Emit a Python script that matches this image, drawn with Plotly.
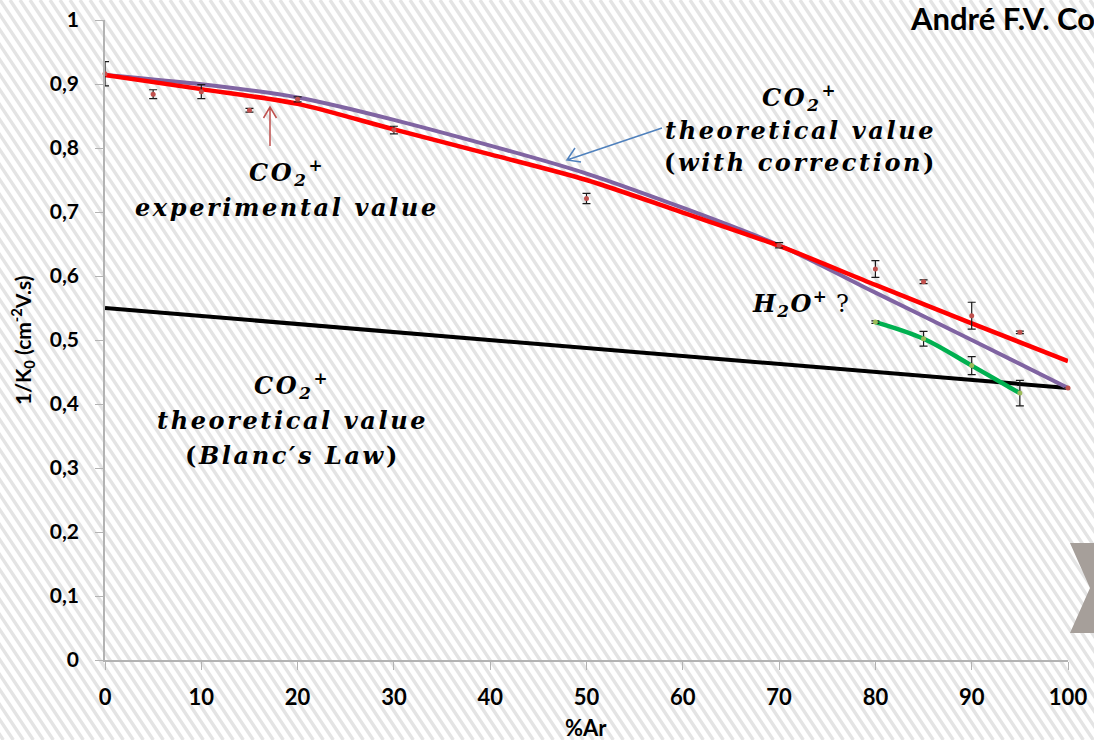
import base64
import plotly.graph_objects as go

# ---- data -------------------------------------------------------------
# measured 1/K0 of CO2+ versus argon fraction, with error bars
pct_ar = [0, 5, 10, 15, 20, 30, 50, 70, 80, 85, 90, 95, 100]
exp_co2 = [0.916, 0.884, 0.888, 0.859, 0.876, 0.828, 0.721, 0.648, 0.611, 0.591, 0.538, 0.512, 0.425]
exp_co2_err = [0.019, 0.007, 0.011, 0.003, 0.004, 0.006, 0.008, 0.004, 0.013, 0.003, 0.021, 0.002, 0.0]

# smoothed trend of the measured CO2+ values
trend_x = [0, 10, 20, 30, 40, 50, 60, 70, 80, 90, 100]
trend_co2 = [0.914, 0.892, 0.869, 0.829, 0.790, 0.750, 0.699, 0.647, 0.586, 0.526, 0.467]

# theoretical CO2+ values with correction
corr_x = [0, 10, 20, 30, 50, 70, 80, 90, 100]
corr_co2 = [0.914, 0.8995, 0.879, 0.844, 0.760, 0.648, 0.574, 0.500, 0.425]

# theoretical CO2+ values from Blanc's law
blanc_x = [0, 100]
blanc_co2 = [0.550, 0.425]

# second ion (H2O+ ?) at high argon fractions
h2o_x = [80, 85, 90, 95]
h2o = [0.528, 0.502, 0.460, 0.417]
h2o_err = [0.002, 0.0115, 0.014, 0.020]

y_ticks = [0, 0.1, 0.2, 0.3, 0.4, 0.5, 0.6, 0.7, 0.8, 0.9, 1]
y_ticktext = ["0", "0,1", "0,2", "0,3", "0,4", "0,5", "0,6", "0,7", "0,8", "0,9", "1"]
x_ticks = [0, 10, 20, 30, 40, 50, 60, 70, 80, 90, 100]

# ---- page geometry ------------------------------------------------------
W, H = 1094, 740
ML, MR, MT, MB = 105, 26, 20, 80
PW, PH = W - ML - MR, H - MT - MB


def px(x):
    return (x - ML) / PW


def py(y):
    return (H - MB - y) / PH


# diagonal hatch backdrop as an inline SVG
lines = []
slope = 1.5
run = H / slope
for k in range(-80, 130):
    x0 = k * 10.0
    lines.append(f'<line x1="{x0:.1f}" y1="0" x2="{x0 + run:.1f}" y2="{H}"/>')
svg = (f'<svg xmlns="http://www.w3.org/2000/svg" width="{W}" height="{H}">'
       f'<rect width="{W}" height="{H}" fill="#ffffff"/>'
       f'<g stroke="#e4e4e4" stroke-width="3.4">' + "".join(lines) + '</g></svg>')
hatch_src = "data:image/svg+xml;base64," + base64.b64encode(svg.encode()).decode()

fig = go.Figure()

fig.add_trace(go.Scatter(x=blanc_x, y=blanc_co2, mode="lines",
                         line=dict(color="#000000", width=4), showlegend=False))
fig.add_trace(go.Scatter(x=corr_x, y=corr_co2, mode="lines",
                         line=dict(color="#8064a2", width=4, shape="spline", smoothing=0.7),
                         showlegend=False))
fig.add_trace(go.Scatter(x=trend_x, y=trend_co2, mode="lines",
                         line=dict(color="#ff0000", width=4.5, shape="spline", smoothing=0.8),
                         showlegend=False))
fig.add_trace(go.Scatter(x=h2o_x, y=h2o, mode="lines",
                         line=dict(color="#00b050", width=4.5, shape="spline", smoothing=1.0),
                         showlegend=False))
fig.add_trace(go.Scatter(x=pct_ar, y=exp_co2, mode="markers",
                         marker=dict(color="#c0504d", size=5),
                         error_y=dict(type="data", array=exp_co2_err, color="#1a1a1a",
                                      thickness=1.2, width=4),
                         cliponaxis=False, showlegend=False))
fig.add_trace(go.Scatter(x=h2o_x, y=h2o, mode="markers",
                         marker=dict(color="#9bbb59", size=5),
                         error_y=dict(type="data", array=h2o_err, color="#1a1a1a",
                                      thickness=1.2, width=4),
                         cliponaxis=False, showlegend=False))

axis_col = "#b3b3b3"
fig.update_xaxes(range=[0, 100], tickvals=x_ticks, showgrid=False, zeroline=False,
                 showline=True, linecolor=axis_col, linewidth=2,
                 ticks="outside", ticklen=8, tickwidth=1.2, tickcolor=axis_col,
                 ticklabelstandoff=9,
                 tickfont=dict(family="Lato", size=22, color="#000000", weight="bold"))
fig.update_yaxes(range=[0, 1], tickvals=y_ticks, ticktext=y_ticktext, showgrid=False,
                 zeroline=False, showline=True, linecolor=axis_col, linewidth=1.5,
                 ticks="outside", ticklen=8, tickwidth=1.2, tickcolor=axis_col,
                 ticklabelstandoff=12,
                 tickfont=dict(family="Lato", size=21, color="#000000", weight="bold"))

math_font = dict(family="DejaVu Serif", size=24, color="#000000", weight="bold", style="italic")
spaced = "letter-spacing:2.6px"
upright = "font-style:normal"
co2 = "<i>C</i>O<sub>2</sub><sup>+</sup>"

texts = [
    (co2, 287, 172),
    ("experimental value", 287, 207),
    (co2, 800, 97),
    ("theoretical value", 800, 130),
    (f"<span style='{upright}'>(</span>with correction<span style='{upright}'>)</span>", 800, 163),
    (co2, 292, 385),
    ("theoretical value", 292, 420),
    (f"<span style='{upright}'>(</span>Blanc′s Law<span style='{upright}'>)</span>", 292, 455),
]
annotations = []
for t, x, y in texts:
    annotations.append(dict(text=f"<span style='{spaced}'>{t}</span>", x=px(x), y=py(y),
                            xref="paper", yref="paper",
                            showarrow=False, xanchor="center", yanchor="middle",
                            font=math_font))
annotations.append(dict(text=(f"<span style='letter-spacing:1.5px'>H<sub>2</sub>O<sup>+</sup></span>"
                              "<span style='font-style:normal;font-weight:normal'> ?</span>"),
                        x=px(750), y=py(303), xref="paper", yref="paper", showarrow=False,
                        xanchor="left", yanchor="middle", font=math_font))
annotations.append(dict(text="%Ar", x=px(586), y=py(727), xref="paper", yref="paper",
                        showarrow=False, xanchor="center", yanchor="middle",
                        font=dict(family="Lato", size=22, color="#000000", weight="bold")))
annotations.append(dict(text="1/K<sub>0</sub> (cm<sup>-2</sup>V.s)", x=px(22), y=py(340),
                        xref="paper", yref="paper", showarrow=False, textangle=-90,
                        xanchor="center", yanchor="middle",
                        font=dict(family="Lato", size=21, color="#000000", weight="bold")))
annotations.append(dict(text="André F.V. Co", x=px(908), y=py(18), xref="paper", yref="paper",
                        showarrow=False, xanchor="left", yanchor="middle",
                        font=dict(family="Lato", size=31, color="#000000", weight="bold")))


def arrow_path(tail, head, arm):
    (tx, ty), (hx, hy) = tail, head
    (ax1, ay1), (ax2, ay2) = arm
    return (f"M {px(tx)},{py(ty)} L {px(hx)},{py(hy)} "
            f"M {px(ax1)},{py(ay1)} L {px(hx)},{py(hy)} L {px(ax2)},{py(ay2)}")


shapes = [
    dict(type="path", xref="paper", yref="paper",
         path=arrow_path((270, 146), (270, 107), ((263.5, 118), (276.5, 118))),
         line=dict(color="#c0504d", width=1.5)),
    dict(type="path", xref="paper", yref="paper",
         path=arrow_path((662, 128), (567, 160), ((575, 148), (581, 162))),
         line=dict(color="#4f81bd", width=1.5)),
    # grey chevron logo fragment at the right edge
    dict(type="path", xref="paper", yref="paper",
         path=(f"M {px(1070)},{py(543)} L {px(1096)},{py(543)} L {px(1096)},{py(633)} "
               f"L {px(1070)},{py(633)} L {px(1090)},{py(588)} Z"),
         fillcolor="#a69f9a", line=dict(width=0)),
]

fig.update_layout(
    width=W, height=H,
    margin=dict(l=ML, r=MR, t=MT, b=MB, autoexpand=False),
    paper_bgcolor="#ffffff", plot_bgcolor="rgba(0,0,0,0)",
    showlegend=False,
    annotations=annotations,
    shapes=shapes,
    images=[dict(source=hatch_src, xref="paper", yref="paper", x=-ML / PW, y=1 + MT / PH,
                 sizex=W / PW, sizey=H / PH, sizing="stretch", xanchor="left",
                 yanchor="top", layer="below")],
)

fig.write_html("out.html")
